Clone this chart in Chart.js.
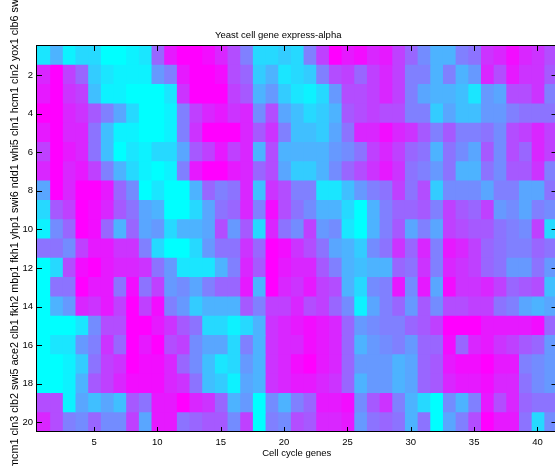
<!DOCTYPE html>
<html>
<head>
<meta charset="utf-8">
<script src="https://cdn.jsdelivr.net/npm/chart.js@4/dist/chart.umd.min.js"></script>
<style>
  html, body { margin: 0; padding: 0; background: #fff; overflow: hidden; }
  #wrap { width: 555px; height: 466px; overflow: hidden; }
  #box { width: 557px; height: 466px; position: relative; }
</style>
</head>
<body>
<div id="wrap"><div id="box"><canvas id="heat"></canvas></div></div>
<script>
// row labels (1..20, top to bottom) and column numbers (1..41)
const rowLabels = Array.from({ length: 20 }, (_, i) => String(i + 1));
const colNumbers = Array.from({ length: 41 }, (_, i) => i + 1);
const xTicks = [5, 10, 15, 20, 25, 30, 35, 40];
const yTicks = [2, 4, 6, 8, 10, 12, 14, 16, 18, 20];
const yLabelGenes = ['mcm1', 'cln3', 'clb2', 'swi5', 'ace2', 'clb1', 'fkh2', 'mbp1', 'fkh1', 'yhp1',
  'swi6', 'ndd1', 'whi5', 'cln1', 'hcm1', 'cln2', 'yox1', 'clb6', 'swi4'];

// normalised expression, 0 = cyan ... 1 = magenta
const row01 = [0.1, 0.3, 0.05, 0.15, 0.15, 0, 0, 0.05, 0.1, 0.6, 0.9, 1, 1, 0.95, 0.85, 0.7, 0.5, 0.15, 0.15, 0.2, 0.15, 0.5, 0.75, 1, 0.9, 0.95, 0.85, 0.9, 0.75, 0.6, 0.45, 0.3, 0.3, 0.5, 0.55, 0.8, 0.85, 0.95, 0.85, 0.8, 0.7];
const row02 = [0.85, 1, 0.75, 0.6, 0.2, 0.1, 0.05, 0.05, 0.05, 0.4, 0.5, 0.9, 1, 1, 0.95, 0.7, 0.6, 0.2, 0.3, 0.1, 0.15, 0.2, 0.5, 0.7, 0.75, 0.6, 0.75, 0.85, 0.75, 0.5, 0.5, 0.3, 0.5, 0.3, 0.4, 0.85, 0.7, 0.9, 0.8, 0.8, 0.65];
const row03 = [0.9, 1, 0.8, 0.75, 0.25, 0.05, 0.05, 0, 0, 0, 0.1, 0.8, 1, 1, 1, 0.75, 0.65, 0.3, 0.4, 0.2, 0.1, 0.05, 0.15, 0.4, 0.7, 0.7, 0.75, 0.85, 0.75, 0.5, 0.35, 0.3, 0.3, 0.25, 0.1, 0.4, 0.35, 0.7, 0.7, 0.8, 0.5];
const row04 = [1, 1, 0.85, 0.8, 0.65, 0.5, 0.35, 0.15, 0, 0, 0.05, 0.5, 0.75, 0.85, 0.9, 0.8, 0.85, 0.45, 0.7, 0.35, 0.25, 0.15, 0.2, 0.3, 0.65, 0.7, 0.75, 0.7, 0.7, 0.5, 0.5, 0.2, 0.35, 0.25, 0.25, 0.4, 0.4, 0.5, 0.55, 0.55, 0.55];
const row05 = [0.9, 1, 0.85, 0.85, 0.55, 0.25, 0.05, 0.05, 0, 0, 0.05, 0.5, 0.8, 1, 1, 1, 0.85, 0.65, 0.8, 0.5, 0.25, 0.25, 0.2, 0.35, 0.55, 0.85, 0.85, 0.95, 0.85, 0.8, 0.65, 0.5, 0.65, 0.5, 0.5, 0.55, 0.45, 0.7, 0.75, 0.85, 0.75];
const row06 = [0.75, 1, 0.9, 0.85, 0.55, 0.25, 0, 0.1, 0.05, 0.15, 0.15, 0.35, 0.65, 0.75, 0.9, 0.75, 0.85, 0.3, 0.7, 0.3, 0.3, 0.3, 0.3, 0.4, 0.45, 0.55, 0.75, 0.85, 0.75, 0.6, 0.55, 0.3, 0.55, 0.45, 0.35, 0.65, 0.45, 0.7, 0.6, 0.85, 0.75];
const row07 = [0.85, 1, 0.85, 0.9, 0.75, 0.5, 0.3, 0.15, 0.05, 0, 0.05, 0.5, 0.9, 1, 1, 0.9, 0.85, 0.6, 0.7, 0.35, 0.2, 0.2, 0.3, 0.45, 0.6, 0.7, 0.8, 0.9, 0.8, 0.55, 0.5, 0.4, 0.55, 0.3, 0.3, 0.55, 0.45, 0.65, 0.65, 0.8, 0.5];
const row08 = [0.35, 1, 0.85, 1, 1, 0.9, 0.6, 0.45, 0, 0.1, 0, 0, 0.3, 0.6, 0.5, 0.55, 0.85, 0.25, 0.8, 0.7, 0.5, 0.5, 0.1, 0.1, 0.25, 0.4, 0.5, 0.55, 0.75, 0.55, 0.7, 0.2, 0.45, 0.45, 0.45, 0.35, 0.5, 0.5, 0.35, 0.35, 0.55];
const row09 = [0.15, 0.65, 0.75, 1, 0.95, 0.85, 0.65, 0.55, 0.35, 0.3, 0, 0, 0.15, 0.35, 0.55, 0.6, 0.85, 0.5, 0.95, 0.7, 0.55, 0.45, 0.3, 0.3, 0.15, 0, 0.3, 0.5, 0.6, 0.6, 0.65, 0.5, 0.75, 0.65, 0.6, 0.75, 0.4, 0.45, 0.35, 0.5, 0.45];
const row10 = [0.05, 0.45, 0.6, 1, 0.95, 0.6, 0.3, 0.6, 0.35, 0.4, 0.15, 0.3, 0.3, 0.35, 0.7, 0.4, 0.65, 0.15, 0.85, 0.55, 0.45, 0.75, 0.4, 0.45, 0.1, 0, 0.3, 0.5, 0.65, 0.35, 0.5, 0.35, 0.75, 0.7, 0.65, 0.65, 0.55, 0.5, 0.45, 0.75, 0.15];
const row11 = [0.55, 0.55, 0.45, 0.75, 0.9, 0.9, 0.8, 0.8, 0.5, 0.15, 0, 0, 0.15, 0.4, 0.55, 0.55, 0.8, 0.6, 1, 0.95, 0.8, 0.7, 0.55, 0.35, 0.3, 0.2, 0.45, 0.55, 0.8, 0.6, 0.85, 0.5, 0.9, 0.85, 0.75, 0.6, 0.55, 0.5, 0.5, 0.6, 0.55];
const row12 = [0, 0.15, 0.7, 0.95, 1, 0.9, 0.85, 0.85, 0.8, 0.55, 0.4, 0.1, 0.1, 0.1, 0.3, 0.5, 0.85, 0.65, 1, 0.9, 0.85, 0.85, 0.65, 0.5, 0.3, 0.25, 0.3, 0.3, 0.6, 0.55, 0.8, 0.5, 0.85, 0.8, 0.75, 0.6, 0.55, 0.4, 0.4, 0.55, 0.4];
const row13 = [0, 0.55, 0.55, 1, 0.9, 0.9, 0.55, 0.95, 0.55, 0.75, 0.4, 0.45, 0.35, 0.5, 0.6, 0.6, 0.9, 0.3, 1, 0.85, 0.8, 0.9, 0.75, 0.7, 0.3, 0.15, 0.45, 0.5, 0.9, 0.45, 0.9, 0.35, 0.95, 0.8, 0.8, 0.85, 0.75, 0.6, 0.65, 0.7, 0.25];
const row14 = [0, 0.3, 0.4, 0.85, 0.8, 0.9, 0.75, 1, 0.75, 0.95, 0.5, 0.4, 0.2, 0.3, 0.3, 0.3, 0.65, 0.5, 0.75, 0.75, 0.85, 0.7, 0.75, 0.6, 0.45, 0.05, 0.35, 0.5, 0.6, 0.4, 0.65, 0.45, 0.7, 0.7, 0.75, 0.75, 0.55, 0.5, 0.35, 0.3, 0.35];
const row15 = [0, 0, 0, 0.1, 0.45, 0.7, 0.7, 1, 1, 0.9, 0.8, 0.65, 0.55, 0.15, 0.15, 0.05, 0.15, 0.3, 0.8, 0.85, 0.9, 0.95, 0.9, 0.85, 0.6, 0.4, 0.45, 0.5, 0.5, 0.6, 0.65, 0.75, 1, 1, 1, 0.9, 0.9, 0.9, 0.9, 0.95, 0.6];
const row16 = [0, 0.1, 0.1, 0.4, 0.5, 0.8, 0.6, 1, 0.9, 1, 0.7, 0.75, 0.45, 0.35, 0.35, 0.15, 0.5, 0.3, 0.8, 0.85, 0.85, 0.95, 0.9, 0.85, 0.6, 0.3, 0.4, 0.45, 0.5, 0.4, 0.6, 0.6, 0.95, 0.6, 0.85, 0.9, 0.8, 0.75, 0.65, 0.6, 0.4];
const row17 = [0, 0, 0.05, 0.2, 0.55, 0.75, 0.8, 1, 0.95, 0.95, 0.85, 0.6, 0.45, 0.25, 0.1, 0.15, 0.4, 0.3, 0.8, 0.85, 0.95, 1, 0.9, 0.85, 0.6, 0.4, 0.4, 0.4, 0.3, 0.35, 0.6, 0.65, 0.9, 0.95, 0.95, 1, 0.9, 0.9, 0.5, 0.45, 0.4];
const row18 = [0, 0, 0.05, 0.3, 0.65, 0.75, 0.85, 0.95, 0.95, 0.95, 0.85, 0.8, 0.55, 0.25, 0.2, 0.05, 0.35, 0.3, 0.8, 0.85, 0.9, 0.9, 0.85, 0.8, 0.6, 0.3, 0.4, 0.4, 0.3, 0.35, 0.6, 0.65, 0.85, 0.9, 0.9, 0.95, 0.85, 0.85, 0.55, 0.45, 0.4];
const row19 = [0.7, 0.7, 0.05, 0.35, 0.25, 0.35, 0.25, 0.65, 0.55, 0.9, 0.9, 1, 0.85, 0.8, 0.6, 0.3, 0.4, 0, 0.45, 0.3, 0.5, 0.6, 0.9, 0.9, 0.95, 0.45, 0.65, 0.8, 0.5, 0.3, 0.15, 0, 0.45, 0.3, 0.5, 0.9, 0.7, 0.85, 0.6, 0.55, 0.55];
const row20 = [0.85, 0.7, 0.5, 0.45, 0.6, 0.45, 0.45, 0.75, 0.35, 0.9, 0.9, 0.55, 0.6, 0.65, 0.65, 0.45, 0.75, 0, 0.5, 0.45, 0.7, 0.65, 0.85, 0.85, 0.9, 0.4, 0.55, 0.6, 0.55, 0.3, 0.55, 0, 0.35, 0.5, 0.7, 1, 0.9, 0.9, 0.55, 0.15, 0.45];

const rowValues = [row01, row02, row03, row04, row05, row06, row07, row08, row09, row10,
  row11, row12, row13, row14, row15, row16, row17, row18, row19, row20];

const FONT = 'Liberation Sans, Arial, Helvetica, sans-serif';

// matlab "cool" colormap
function coolColor(t) {
  const r = Math.round(255 * t);
  const g = Math.round(255 * (1 - t));
  return 'rgb(' + r + ',' + g + ',255)';
}

// one floating-bar dataset per column, one bar per row
const datasets = colNumbers.map((c, ci) => ({
  label: 'col ' + c,
  data: rowValues.map(() => [c - 0.5, c + 0.5]),
  backgroundColor: rowValues.map(r => coolColor(r[ci])),
  borderWidth: 0,
  grouped: false,
  barPercentage: 1,
  categoryPercentage: 1,
  inflateAmount: 0.5
}));

// box, inward ticks and the rotated gene label
const axesBox = {
  id: 'axesBox',
  afterDatasetsDraw(chart) {
    const { ctx, chartArea: a, scales: { x, y } } = chart;
    ctx.save();
    ctx.strokeStyle = '#000';
    ctx.lineWidth = 1;
    ctx.beginPath();
    xTicks.forEach(v => {
      const px = Math.round(x.getPixelForValue(v)) + 0.5;
      ctx.moveTo(px, a.bottom); ctx.lineTo(px, a.bottom - 5);
      ctx.moveTo(px, a.top); ctx.lineTo(px, a.top + 5);
    });
    yTicks.forEach(v => {
      const py = Math.round(y.getPixelForValue(v - 1)) + 0.5;
      ctx.moveTo(a.left, py); ctx.lineTo(a.left + 5, py);
      ctx.moveTo(a.right, py); ctx.lineTo(a.right - 5, py);
    });
    ctx.stroke();
    ctx.strokeRect(Math.round(a.left) - 0.5, Math.round(a.top) - 0.5,
      Math.round(a.right - a.left), Math.round(a.bottom - a.top));

    // y label: gene names, reads bottom to top
    ctx.fillStyle = '#000';
    ctx.font = '10.8px ' + FONT;
    ctx.textAlign = 'left';
    ctx.textBaseline = 'middle';
    ctx.translate(15, 468);
    ctx.rotate(-Math.PI / 2);
    ctx.fillText(yLabelGenes.join(' '), 0, 0);
    ctx.restore();
  }
};

Chart.defaults.font.family = FONT;
Chart.defaults.color = '#000';

new Chart(document.getElementById('heat'), {
  type: 'bar',
  data: { labels: rowLabels, datasets: datasets },
  options: {
    indexAxis: 'y',
    responsive: true,
    maintainAspectRatio: false,
    devicePixelRatio: 1,
    animation: false,
    events: [],
    layout: { padding: { left: 0, right: 0.5, top: 0, bottom: 0 } },
    plugins: {
      legend: { display: false },
      tooltip: { enabled: false },
      title: {
        display: true,
        text: 'Yeast cell gene express-alpha',
        color: '#000',
        font: { size: 9.5, weight: 'normal' },
        padding: { top: 29.5, bottom: 5.1 }
      }
    },
    scales: {
      x: {
        type: 'linear',
        position: 'bottom',
        min: 0.5,
        max: 41.5,
        grid: { display: false, drawTicks: false },
        border: { display: false },
        ticks: {
          stepSize: 5,
          includeBounds: false,
          autoSkip: false,
          maxRotation: 0,
          padding: 5,
          color: '#000',
          font: { size: 9.5 }
        },
        title: {
          display: true,
          text: 'Cell cycle genes',
          color: '#000',
          font: { size: 9.5 },
          padding: { top: 0, bottom: 7.3 }
        },
        afterFit(scale) { scale.height = 34; }
      },
      y: {
        type: 'category',
        position: 'left',
        grid: { display: false, drawTicks: false },
        border: { display: false },
        ticks: {
          autoSkip: false,
          padding: 4,
          color: '#000',
          font: { size: 9.5 },
          callback: (val, i) => (yTicks.includes(i + 1) ? rowLabels[i] : '')
        },
        afterFit(scale) { scale.width = 37; }
      }
    }
  },
  plugins: [axesBox]
});
</script>
</body>
</html>
